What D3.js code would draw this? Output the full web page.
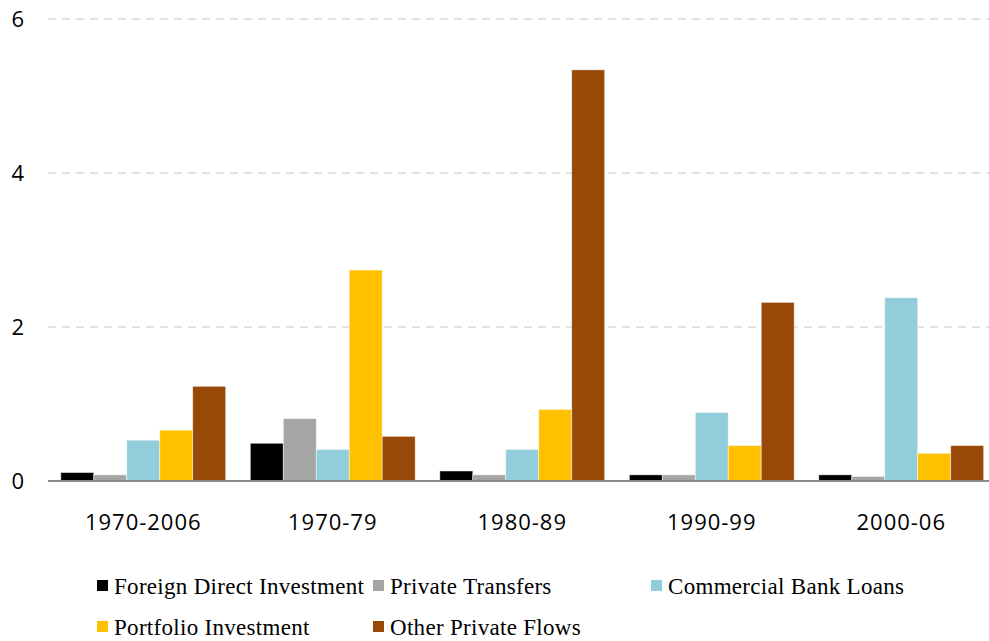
<!DOCTYPE html>
<html lang="en">
<head>
    <meta charset="UTF-8">
    <title>Private Flows</title>
    <script src="https://cdn.jsdelivr.net/npm/d3@7"></script>
    <style>
        body { margin: 0; background: #fff; }
        svg { display: block; }
        .tick-label { font-family: "Open Sans", sans-serif; font-size: 22px; fill: #000; }
        .cat-label { letter-spacing: 1px; }
        .legend text { font-family: "Liberation Serif", "Times New Roman", serif; font-size: 23px; letter-spacing: 0.3px; fill: #000; }
    </style>
</head>
<body>
<svg width="989" height="641"></svg>
<script>
    var periods = ['1970-2006', '1970-79', '1980-89', '1990-99', '2000-06'];
    var seriesNames = ['Foreign Direct Investment', 'Private Transfers', 'Commercial Bank Loans',
        'Portfolio Investment', 'Other Private Flows'];
    var colors = ['#000000', '#A5A5A5', '#92CDDC', '#FFC000', '#984807'];
    // rows = series, columns = periods
    var fdi = [0.11, 0.49, 0.13, 0.08, 0.08];
    var transfers = [0.08, 0.81, 0.08, 0.08, 0.06];
    var bankLoans = [0.53, 0.41, 0.41, 0.89, 2.38];
    var portfolio = [0.66, 2.74, 0.93, 0.46, 0.36];
    var otherFlows = [1.23, 0.58, 5.34, 2.32, 0.46];
    var yTicks = [0, 2, 4, 6];

    var values = [fdi, transfers, bankLoans, portfolio, otherFlows];
    var svg = d3.select('svg');

    var x0 = d3.scaleBand().domain(periods).range([48.5, 996]).paddingInner(0.13).paddingOuter(0.065);
    var x1 = d3.scaleBand().domain(d3.range(seriesNames.length)).range([0, x0.bandwidth()]);
    var y = d3.scaleLinear().domain([0, 6]).range([481, 19]);

    // grid
    svg.append('g').selectAll('line')
        .data(yTicks.filter(function (d) { return d > 0; }))
        .enter().append('line')
        .attr('x1', 48).attr('x2', 989)
        .attr('y1', function (d) { return y(d); })
        .attr('y2', function (d) { return y(d); })
        .style('stroke', '#D9D9D9')
        .style('stroke-width', 1.5)
        .style('stroke-dasharray', '8,6');

    svg.append('g').selectAll('text')
        .data(yTicks)
        .enter().append('text')
        .attr('class', 'tick-label')
        .attr('x', 24)
        .attr('y', function (d) { return y(d); })
        .attr('dy', '0.35em')
        .attr('text-anchor', 'end')
        .text(function (d) { return d; });

    // bars
    var groups = svg.append('g').selectAll('g')
        .data(periods)
        .enter().append('g')
        .attr('transform', function (d) { return 'translate(' + x0(d) + ',0)'; });

    groups.selectAll('rect')
        .data(function (d, i) {
            return values.map(function (s, k) { return {k: k, v: s[i]}; });
        })
        .enter().append('rect')
        .attr('x', function (d) { return x1(d.k); })
        .attr('width', x1.bandwidth())
        .attr('y', function (d) { return y(d.v); })
        .attr('height', function (d) { return y(0) - y(d.v); })
        .style('fill', function (d) { return colors[d.k]; })
        .style('stroke', 'rgba(255,255,255,0.6)')
        .style('stroke-width', 0.8);

    // baseline
    svg.append('line')
        .attr('x1', 48).attr('x2', 989)
        .attr('y1', y(0)).attr('y2', y(0))
        .style('stroke', '#8C8C8C')
        .style('stroke-width', 2);

    svg.append('g').selectAll('text')
        .data(periods)
        .enter().append('text')
        .attr('class', 'tick-label cat-label')
        .attr('x', function (d) { return x0(d) + x0.bandwidth() / 2; })
        .attr('y', 522)
        .attr('dy', '0.35em')
        .attr('text-anchor', 'middle')
        .text(function (d) { return d; });

    // legend
    var legendPos = [[97, 586], [373, 586], [651, 586], [97, 627], [373, 627]];
    var legend = svg.append('g').attr('class', 'legend')
        .selectAll('g')
        .data(seriesNames)
        .enter().append('g')
        .attr('transform', function (d, i) { return 'translate(' + legendPos[i][0] + ',' + legendPos[i][1] + ')'; });

    legend.append('rect')
        .attr('x', 0).attr('y', -6)
        .attr('width', 11).attr('height', 11)
        .style('fill', function (d, i) { return colors[i]; });

    legend.append('text')
        .attr('x', 17)
        .attr('y', 0)
        .attr('dy', '0.35em')
        .text(function (d) { return d; });
</script>
</body>
</html>
